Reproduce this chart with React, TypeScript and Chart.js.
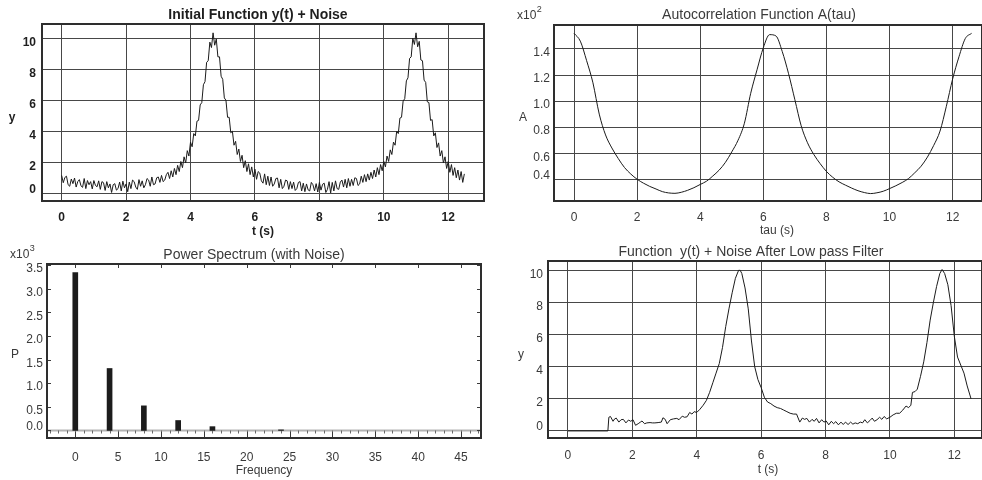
import React, { useEffect, useRef } from "react";
import { Chart, registerables } from "chart.js";

Chart.register(...registerables);

const FONT = '"Liberation Sans", Arial, Helvetica, sans-serif';
const W = 491;
const H = 240;
const GRID = "#474747";
const FRAME = "#2e2e2e";

// ---------- Panel 1: initial function + noise ----------
const noisyStep = 0.05; // seconds between samples, starting at t = 0
const noisyY = [
  1.15, 0.68, 1.02, 1.10, 0.55, 0.45, 0.92, 0.62, 0.98, 0.40,
  0.75, 0.88, 0.48, 0.38, 0.95, 0.30, 0.82, 0.55, 0.75, 0.28,
  0.82, 0.50, 0.42, 0.80, 0.25, 0.75, 0.68, 0.18, 0.75, 0.35,
  0.60, 0.05, 0.55, 0.62, 0.20, 0.30, 0.72, 0.15, 0.78, 0.35,
  0.60, 0.10, 0.72, 0.30, 0.85, 0.75, 0.40, 0.25, 0.88, 0.45,
  0.80, 0.35, 0.55, 0.95, 0.85, 0.45, 1.05, 0.55, 0.60, 1.00,
  1.05, 0.70, 1.15, 0.75, 0.85, 1.20, 1.35, 0.95, 1.45, 1.05,
  1.60, 1.20, 1.80, 1.40, 2.05, 1.65, 2.35, 1.95, 2.75, 2.40,
  3.30, 3.00, 3.85, 3.70, 4.65, 4.70, 5.70, 5.85, 7.00, 7.20,
  8.45, 8.55, 9.75, 9.40, 10.35, 9.55, 9.95, 8.80, 8.80, 7.55,
  7.35, 6.15, 6.00, 4.90, 4.90, 3.90, 4.00, 3.10, 3.35, 2.50,
  2.85, 2.05, 2.45, 1.65, 2.10, 1.40, 1.90, 1.20, 1.70, 1.05,
  1.55, 0.90, 1.40, 1.30, 0.80, 0.65, 1.25, 0.55, 1.10, 0.50,
  1.05, 0.45, 0.60, 0.95, 0.98, 0.35, 0.90, 0.30, 0.45, 0.85,
  0.80, 0.25, 0.75, 0.30, 0.72, 0.18, 0.30, 0.70, 0.75, 0.15,
  0.65, 0.10, 0.60, 0.22, 0.15, 0.70, 0.55, 0.15, 0.62, 0.08,
  0.70, 0.20, 0.58, 0.65, 0.05, 0.25, 0.75, 0.02, 0.70, 0.15,
  0.80, 0.30, 0.25, 0.72, 0.85, 0.40, 0.90, 0.35, 0.95, 0.45,
  0.90, 0.50, 1.00, 0.95, 0.50, 0.60, 1.10, 0.70, 1.20, 0.75,
  1.25, 0.85, 1.35, 0.95, 1.50, 1.05, 1.65, 1.20, 1.85, 1.45,
  2.05, 1.70, 2.40, 2.05, 2.80, 2.50, 3.30, 3.10, 4.00, 3.85,
  4.85, 4.90, 5.95, 6.10, 7.25, 7.45, 8.70, 8.80, 10.00, 9.60,
  10.35, 9.45, 9.80, 8.60, 8.55, 7.30, 7.15, 5.90, 5.85, 4.70,
  4.75, 3.70, 3.90, 2.95, 3.25, 2.40, 2.75, 1.95, 2.35, 1.60,
  2.05, 1.35, 1.85, 1.15, 1.65, 1.00, 1.50, 0.85, 1.40, 0.70,
  1.25,
];
const p1XTicks = [0, 2, 4, 6, 8, 10, 12];
const p1YTicks = [0, 2, 4, 6, 8, 10];

// ---------- Panel 2: autocorrelation (x10^2) ----------
const acfTau = [
  0, 0.2, 0.4, 0.6, 0.8, 1.0, 1.2, 1.4, 1.6, 1.8,
  2.0, 2.2, 2.4, 2.6, 2.8, 3.0, 3.2, 3.4, 3.6, 3.8,
  4.0, 4.2, 4.4, 4.6, 4.8, 5.0, 5.2, 5.4, 5.6, 5.8,
  6.0, 6.2, 6.4, 6.6, 6.8, 7.0, 7.2, 7.4, 7.6, 7.8,
  8.0, 8.2, 8.4, 8.6, 8.8, 9.0, 9.2, 9.4, 9.6, 9.8,
  10.0, 10.2, 10.4, 10.6, 10.8, 11.0, 11.2, 11.4, 11.6, 11.8,
  12.0, 12.2, 12.4, 12.6,
];
const acfA = [
  1.52, 1.46, 1.31, 1.14, 0.90, 0.74, 0.64, 0.56, 0.49, 0.44,
  0.40, 0.37, 0.345, 0.325, 0.305, 0.295, 0.292, 0.30, 0.315, 0.335,
  0.36, 0.385, 0.425, 0.47, 0.53, 0.61, 0.70, 0.83, 1.06, 1.24,
  1.41, 1.51, 1.50, 1.38, 1.21, 1.01, 0.81, 0.68, 0.59, 0.52,
  0.46, 0.415, 0.38, 0.355, 0.332, 0.312, 0.298, 0.29, 0.296, 0.308,
  0.328, 0.35, 0.375, 0.405, 0.45, 0.50, 0.57, 0.66, 0.77, 0.96,
  1.17, 1.34, 1.48, 1.52,
];
const p2XTicks = [0, 2, 4, 6, 8, 10, 12];
const p2YTicks = [0.4, 0.6, 0.8, 1.0, 1.2, 1.4];

// ---------- Panel 3: power spectrum (x10^3) ----------
const psFreq = [0, 4, 8, 12, 16, 24];
const psPower = [3.34, 1.31, 0.52, 0.21, 0.08, 0.012];
const p3XTicks = [0, 5, 10, 15, 20, 25, 30, 35, 40, 45];
const p3YTicks = [0, 0.5, 1.0, 1.5, 2.0, 2.5, 3.0, 3.5];

// ---------- Panel 4: after low pass filter ----------
const filtT = [
  0, 1.24, 1.27, 1.32, 1.4, 1.45, 1.5, 1.58, 1.65, 1.72,
  1.8, 1.88, 1.95, 2.02, 2.1, 2.18, 2.25, 2.3, 2.38, 2.45,
  2.55, 2.62, 2.7, 2.8, 2.9, 2.95, 3.02, 3.08, 3.18, 3.28,
  3.38, 3.45, 3.55, 3.62, 3.7, 3.78, 3.85, 3.92, 4.0, 4.1,
  4.2, 4.3, 4.4, 4.5, 4.6, 4.7, 4.8, 4.9, 5.0, 5.1,
  5.2, 5.3, 5.35, 5.4, 5.5, 5.6, 5.7, 5.8, 5.9, 6.0,
  6.1, 6.2, 6.3, 6.4, 6.5, 6.6, 6.7, 6.8, 6.9, 7.0,
  7.1, 7.2, 7.28, 7.35, 7.42, 7.5, 7.58, 7.65, 7.72, 7.8,
  7.88, 7.95, 8.02, 8.1, 8.18, 8.25, 8.32, 8.4, 8.48, 8.55,
  8.62, 8.7, 8.78, 8.85, 8.92, 9.0, 9.08, 9.15, 9.22, 9.3,
  9.38, 9.45, 9.52, 9.6, 9.68, 9.75, 9.82, 9.9, 10.0, 10.1,
  10.2, 10.3, 10.4, 10.5, 10.58, 10.65, 10.7, 10.78, 10.85, 10.95,
  11.05, 11.15, 11.25, 11.35, 11.45, 11.55, 11.62, 11.7, 11.8, 11.9,
  12.0, 12.1, 12.2, 12.3, 12.4, 12.52,
];
const filtY = [
  0, 0, 0.85, 0.9, 0.6, 0.75, 0.8, 0.55, 0.7, 0.72,
  0.5, 0.68, 0.6, 0.7, 0.35, 0.45, 0.55, 0.62, 0.45, 0.5,
  0.52, 0.5, 0.5, 0.52, 0.55, 0.82, 0.72, 0.45, 0.7, 0.75,
  0.78, 0.7, 0.92, 0.85, 0.88, 1.15, 1.05, 1.2, 1.15, 1.35,
  1.6, 1.9, 2.4, 3.0, 3.6, 4.2, 5.2, 6.5, 7.6, 8.6,
  9.5, 10.0, 10.0, 9.8, 8.9, 7.6, 5.6, 4.0, 3.2, 2.7,
  2.1, 1.8, 1.7, 1.55, 1.45, 1.4, 1.3, 1.2, 1.1, 1.05,
  1.05, 0.55, 0.8, 0.72, 0.78, 0.55, 0.72, 0.6, 0.78, 0.5,
  0.7, 0.55, 0.62, 0.38, 0.6, 0.45, 0.58, 0.38, 0.55, 0.4,
  0.55, 0.4, 0.55, 0.42, 0.5, 0.45, 0.55, 0.5, 0.7, 0.5,
  0.65, 0.8, 0.6, 0.7, 0.85, 0.72, 0.9, 0.75, 0.85, 1.0,
  1.1, 1.1, 1.3, 1.55, 1.45, 1.6, 2.4, 2.45, 2.6, 3.4,
  4.3, 5.5, 6.9, 8.0, 9.0, 9.8, 10.05, 9.8, 9.1, 7.8,
  5.9, 4.6, 4.1, 3.6, 2.8, 2.0,
];
const p4XTicks = [0, 2, 4, 6, 8, 10, 12];
const p4YTicks = [0, 2, 4, 6, 8, 10];

// ---------- panel specs ----------
type Txt = { text: string; x: number; y: number };
type Spec = {
  id: string;
  pos: [number, number];
  area: { l: number; t: number; r: number; b: number };
  xMin: number; xMax: number; yMin: number; yMax: number;
  xTicks: number[]; yTicks: number[];
  yFmt: (v: number) => string;
  bold: boolean; textColor: string;
  title: Txt; xTitle: Txt; yTitle: Txt;
  expo?: { pow: string; x: number; y: number };
  grid: boolean; spectrum?: boolean;
  yGap: number; xLabelPad: number;
  kind: "line" | "bar";
  makeDatasets: () => any[];
};

const LINE = "#1b1b1b";

const SPECS: Spec[] = [
  {
    id: "p1", pos: [0, 0],
    area: { l: 42, t: 24, r: 484, b: 201 },
    xMin: -0.61, xMax: 13.11, yMin: -0.5, yMax: 10.92,
    xTicks: p1XTicks, yTicks: p1YTicks, yFmt: (v) => String(v),
    bold: true, textColor: "#1e1e1e",
    title: { text: "Initial Function y(t) + Noise", x: 258, y: 15 },
    xTitle: { text: "t (s)", x: 263, y: 232 },
    yTitle: { text: "y", x: 12, y: 118 },
    grid: true, yGap: 6, xLabelPad: 9, kind: "line",
    makeDatasets: () => [{
      data: noisyY.map((y, i) => ({ x: Math.round(i * noisyStep * 100) / 100, y })),
      borderColor: LINE, borderWidth: 1, pointRadius: 0, tension: 0, fill: false,
    }],
  },
  {
    id: "p2", pos: [491, 0],
    area: { l: 63, t: 25, r: 491, b: 201 },
    xMin: -0.634, xMax: 12.93, yMin: 0.233, yMax: 1.584,
    xTicks: p2XTicks, yTicks: p2YTicks, yFmt: (v) => v.toFixed(1),
    bold: false, textColor: "#3a3a3a",
    title: { text: "Autocorrelation Function A(tau)", x: 268, y: 15 },
    xTitle: { text: "tau (s)", x: 286, y: 231 },
    yTitle: { text: "A", x: 32, y: 118 },
    expo: { pow: "2", x: 26, y: 16 },
    grid: true, yGap: 4, xLabelPad: 9, kind: "line",
    makeDatasets: () => [{
      data: acfTau.map((x, i) => ({ x, y: acfA[i] })),
      borderColor: LINE, borderWidth: 1, pointRadius: 0,
      cubicInterpolationMode: "monotone", fill: false,
    }],
  },
  {
    id: "p3", pos: [0, 240],
    area: { l: 47, t: 24, r: 481, b: 198 },
    xMin: -3.3, xMax: 47.33, yMin: -0.16, yMax: 3.52,
    xTicks: p3XTicks, yTicks: p3YTicks, yFmt: (v) => v.toFixed(1),
    bold: false, textColor: "#3a3a3a",
    title: { text: "Power Spectrum (with Noise)", x: 254, y: 15 },
    xTitle: { text: "Frequency", x: 264, y: 231 },
    yTitle: { text: "P", x: 15, y: 115 },
    expo: { pow: "3", x: 10, y: 15 },
    grid: false, spectrum: true, yGap: 4, xLabelPad: 12, kind: "bar",
    makeDatasets: () => [{
      data: psFreq.map((x, i) => ({ x, y: psPower[i] })),
      backgroundColor: "#1c1c1c", borderWidth: 0, barThickness: 5,
    }],
  },
  {
    id: "p4", pos: [491, 240],
    area: { l: 57, t: 21, r: 491, b: 198 },
    xMin: -0.62, xMax: 12.86, yMin: -0.44, yMax: 10.58,
    xTicks: p4XTicks, yTicks: p4YTicks, yFmt: (v) => String(v),
    bold: false, textColor: "#3a3a3a",
    title: { text: "Function  y(t) + Noise After Low pass Filter", x: 260, y: 12 },
    xTitle: { text: "t (s)", x: 277, y: 230 },
    yTitle: { text: "y", x: 30, y: 115 },
    grid: true, yGap: 5, xLabelPad: 10, kind: "line",
    makeDatasets: () => [{
      data: filtT.map((x, i) => ({ x, y: filtY[i] })),
      borderColor: LINE, borderWidth: 1, pointRadius: 0, tension: 0, fill: false,
    }],
  },
];

function makeDecor(spec: Spec) {
  return {
    id: "decor_" + spec.id,
    beforeDatasetsDraw(chart: any) {
      if (!spec.spectrum) return;
      const ctx = chart.ctx;
      const a = chart.chartArea;
      const xs = chart.scales.x;
      const ys = chart.scales.y;
      ctx.save();
      const y0 = Math.round(ys.getPixelForValue(0)) + 0.5;
      // zero line
      ctx.strokeStyle = "#b4b4b4";
      ctx.lineWidth = 2;
      ctx.beginPath();
      ctx.moveTo(a.left, y0);
      ctx.lineTo(a.right, y0);
      ctx.stroke();
      // minor ticks along zero line
      ctx.strokeStyle = "#6a6a6a";
      ctx.lineWidth = 1;
      ctx.beginPath();
      for (let f = -3; f <= 47; f++) {
        const x = Math.round(xs.getPixelForValue(f)) + 0.5;
        ctx.moveTo(x, y0);
        ctx.lineTo(x, y0 + 3);
      }
      ctx.stroke();
      // inner major ticks
      ctx.strokeStyle = "#3a3a3a";
      ctx.beginPath();
      spec.xTicks.forEach((v) => {
        const x = Math.round(xs.getPixelForValue(v)) + 0.5;
        ctx.moveTo(x, a.bottom);
        ctx.lineTo(x, a.bottom - 6);
        ctx.moveTo(x, a.top);
        ctx.lineTo(x, a.top + 4);
      });
      spec.yTicks.forEach((v) => {
        const y = Math.round(ys.getPixelForValue(v)) + 0.5;
        ctx.moveTo(a.left, y);
        ctx.lineTo(a.left + 4, y);
        ctx.moveTo(a.right, y);
        ctx.lineTo(a.right - 4, y);
      });
      ctx.stroke();
      ctx.restore();
    },
    afterDraw(chart: any) {
      const ctx = chart.ctx;
      const a = chart.chartArea;
      const ys = chart.scales.y;
      const weight = spec.bold ? "bold " : "";
      ctx.save();
      // frame
      ctx.strokeStyle = FRAME;
      ctx.lineWidth = 2;
      ctx.strokeRect(a.left, a.top, a.right - a.left, a.bottom - a.top);
      // y tick labels
      ctx.fillStyle = spec.textColor;
      ctx.font = `${weight}12px ${FONT}`;
      ctx.textAlign = "right";
      ctx.textBaseline = "middle";
      spec.yTicks.forEach((v, i) => {
        const y = ys.getPixelForValue(v) + (i === 0 ? -4 : 4);
        ctx.fillText(spec.yFmt(v), a.left - spec.yGap, y);
      });
      // titles
      ctx.textAlign = "center";
      ctx.font = `${weight}14px ${FONT}`;
      ctx.fillText(spec.title.text, spec.title.x, spec.title.y);
      ctx.font = `${weight}12px ${FONT}`;
      ctx.fillText(spec.xTitle.text, spec.xTitle.x, spec.xTitle.y);
      ctx.fillText(spec.yTitle.text, spec.yTitle.x, spec.yTitle.y);
      if (spec.expo) {
        ctx.textAlign = "left";
        ctx.font = `12px ${FONT}`;
        ctx.fillText("x10", spec.expo.x, spec.expo.y);
        const w = ctx.measureText("x10").width;
        ctx.font = `9px ${FONT}`;
        ctx.fillText(spec.expo.pow, spec.expo.x + w + 0.5, spec.expo.y - 6);
      }
      ctx.restore();
    },
  };
}

function buildConfig(spec: Spec): any {
  const weight = spec.bold ? "bold" : "normal";
  return {
    type: spec.kind,
    data: { datasets: spec.makeDatasets() },
    options: {
      responsive: false,
      animation: false,
      devicePixelRatio: 1,
      events: [],
      layout: { padding: { left: 0, top: spec.area.t, right: W - spec.area.r, bottom: 0 } },
      plugins: {
        legend: { display: false },
        title: { display: false },
        tooltip: { enabled: false },
      },
      scales: {
        x: {
          type: "linear",
          min: spec.xMin,
          max: spec.xMax,
          offset: false,
          afterBuildTicks: (s: any) => {
            s.ticks = spec.xTicks.map((v) => ({ value: v }));
          },
          afterFit: (s: any) => {
            s.height = H - spec.area.b;
          },
          ticks: {
            display: true,
            autoSkip: false,
            maxRotation: 0,
            minRotation: 0,
            padding: spec.xLabelPad,
            color: spec.textColor,
            font: { family: FONT, size: 12, weight },
            callback: (v: any) => String(v),
          },
          grid: { display: spec.grid, drawOnChartArea: true, drawTicks: false, color: GRID, lineWidth: 1 },
          border: { display: false },
        },
        y: {
          type: "linear",
          min: spec.yMin,
          max: spec.yMax,
          afterBuildTicks: (s: any) => {
            s.ticks = spec.yTicks.map((v) => ({ value: v }));
          },
          afterFit: (s: any) => {
            s.width = spec.area.l;
          },
          ticks: { display: false },
          grid: { display: spec.grid, drawOnChartArea: true, drawTicks: false, color: GRID, lineWidth: 1 },
          border: { display: false },
        },
      },
    },
    plugins: [makeDecor(spec)],
  };
}

function Panel({ spec }: { spec: Spec }) {
  const ref = useRef<HTMLCanvasElement | null>(null);
  useEffect(() => {
    if (!ref.current) return;
    const chart = new Chart(ref.current, buildConfig(spec));
    return () => chart.destroy();
  }, [spec]);
  return (
    <canvas
      ref={ref}
      width={W}
      height={H}
      style={{ position: "absolute", left: spec.pos[0], top: spec.pos[1], width: W, height: H, display: "block" }}
    />
  );
}

export default function App() {
  return (
    <div style={{ position: "absolute", left: 0, top: 0, width: 982, height: 480, background: "#ffffff", overflow: "hidden" }}>
      {SPECS.map((s) => (
        <Panel key={s.id} spec={s} />
      ))}
    </div>
  );
}
